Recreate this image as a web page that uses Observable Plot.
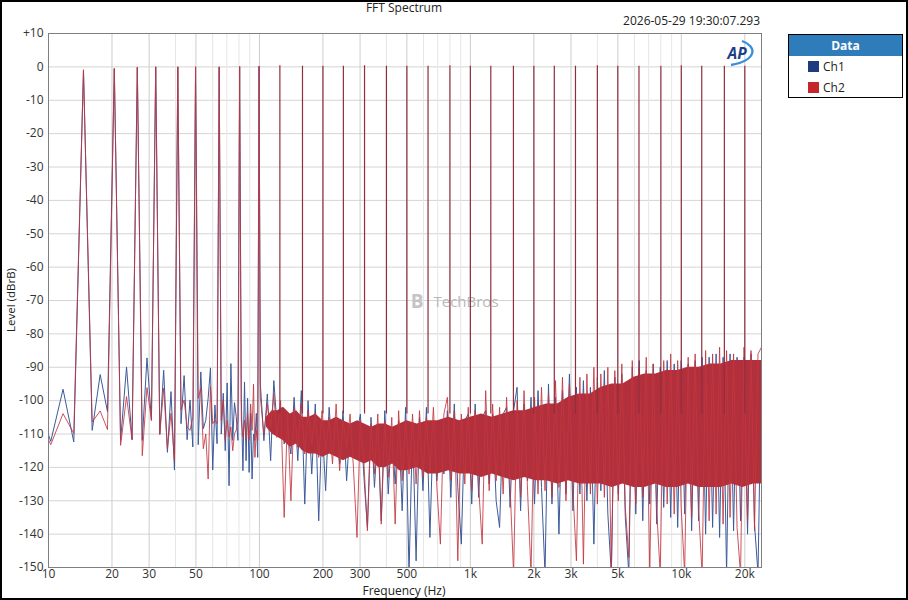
<!DOCTYPE html>
<html>
<head>
<meta charset="utf-8">
<script src="https://cdn.jsdelivr.net/npm/d3@7"></script>
<script src="https://cdn.jsdelivr.net/npm/@observablehq/plot@0.6"></script>
<style>
  html, body { margin: 0; padding: 0; background: #fff; }
  #wrap { position: relative; width: 908px; height: 600px; overflow: hidden; background: #fff;
          font-family: "Open Sans", "Noto Sans", sans-serif; color: #222; }
  #chart { position: absolute; left: 0; top: 0; }
  .ov { position: absolute; white-space: nowrap; line-height: 14px; }
  #title { left: 0; width: 808px; top: 3px; line-height: 10px; text-align: center; font-size: 12px; }
  #stamp { right: 148px; top: 14px; font-size: 12px; }
  #xlabel { left: 0; width: 808px; top: 586px; line-height: 9px; text-align: center; font-size: 12px; }
  #ylabel { left: 11px; top: 300px; font-size: 11.5px; transform: translate(-50%, -50%) rotate(-90deg); }
  #legend { left: 788px; top: 34px; width: 115px; height: 64px; border: 1px solid #000; box-sizing: border-box; font-size: 12px; background: #fff; }
  #lhead { position: absolute; left: 0; top: 0; width: 113px; height: 21px; line-height: 21px; background: #2f7cba; color: #fff; font-weight: 700; text-align: center; }
  .sw { position: absolute; left: 19px; width: 11px; height: 11px; }
  .lt { position: absolute; left: 34px; line-height: 14px; }
  #border { position: absolute; left: 0; top: 0; width: 908px; height: 600px; border: 2px solid #000; box-sizing: border-box; pointer-events: none; }
</style>
</head>
<body>
<div id="wrap">
  <div id="chart"></div>
  <div id="title" class="ov">FFT Spectrum</div>
  <div id="stamp" class="ov">2026-05-29 19:30:07.293</div>
  <div id="xlabel" class="ov">Frequency (Hz)</div>
  <div id="ylabel" class="ov">Level (dBrB)</div>
  <svg class="ov" style="left:0;top:0" width="908" height="600">
    <path d="M742,41 C757,46 758,60 731,65" fill="none" stroke="#3b8fd8" stroke-width="2.3"/>
    <text x="737" y="58.5" text-anchor="middle" font-family="Open Sans" font-weight="700" font-style="italic" font-size="15.5" fill="#1c3f86">AP</text>
  </svg>
  <div id="legend" class="ov">
    <div id="lhead">Data</div>
    <div class="sw" style="top:26px;background:#1f3b7f"></div>
    <div class="lt" style="top:25px">Ch1</div>
    <div class="sw" style="top:47px;background:#c4272c"></div>
    <div class="lt" style="top:46px">Ch2</div>
  </div>
  <div id="border"></div>
</div>
<script>
// ---- axis ticks ----
const xTicks = [10, 20, 30, 50, 100, 200, 300, 500, 1000, 2000, 3000, 5000, 10000, 20000];
const xTickLabels = ["10", "20", "30", "50", "100", "200", "300", "500", "1k", "2k", "3k", "5k", "10k", "20k"];
const yTicks = [10, 0, -10, -20, -30, -40, -50, -60, -70, -80, -90, -100, -110, -120, -130, -140, -150];
const gridMajor = [20, 30, 50, 100, 200, 300, 500, 1000, 2000, 3000, 5000, 10000, 20000];
const gridMinor = [40, 60, 70, 80, 90, 400, 600, 700, 800, 900, 4000, 6000, 7000, 8000, 9000];
const yGrid = [0, -10, -20, -30, -40, -50, -60, -70, -80, -90, -100, -110, -120, -130, -140];

// ---- low-frequency FFT bins (Hz) with levels (dBrB), incl. first tones ----
const lowBinFreqs = [8.79, 10.25, 11.72, 13.18, 14.65, 16.11, 17.58, 19.04, 20.51, 21.97,
  23.44, 24.90, 26.37, 27.83, 29.30, 30.76, 32.23, 33.69, 35.16, 36.62,
  38.09, 39.55, 41.02, 42.48, 43.95, 45.41, 46.88, 48.34, 49.80, 51.27,
  52.73, 54.20, 55.66, 57.13, 58.59, 60.06, 61.52, 62.99, 64.45, 65.92,
  67.38, 68.85, 70.31, 71.78, 73.24, 74.71, 76.17, 77.64, 79.10, 80.57,
  82.03, 83.50, 84.96, 86.43, 87.89, 89.36, 90.82, 92.29, 93.75, 95.21,
  96.68, 98.14, 99.61];
const lowCh1 = [-100, -112.2, -96.6, -112.4, -0.9, -108.9, -92.2, -103.3, -0.5, -111.9,
  -89.9, -111.7, -0.1, -111.9, -87.2, -105.9, 0, -110.1, -90.9, -115.5,
  -97.3, -120.8, 0, -106.9, -92.5, -111.7, -99.8, -113.9, 0, -113.2,
  -91.4, -108.4, -105.9, -99.3, -90.2, -120.8, -101.3, -112.9, 0, -110,
  -97.8, -115, -94.7, -125.5, -88.9, -111.9, -100.6, -104.8, -111.9, 0.1,
  -99.3, -121, -94.4, -118, -99.3, -121.5, -103.8, -123.5, -110, -111.9,
  -103.8, -117, 0.2];
const lowCh2 = [-104, -113.2, -103.9, -109.8, -0.9, -106.4, -103.1, -108.7, -0.5, -113.4,
  -98.8, -111.7, -0.1, -116.5, -96.1, -105.9, 0, -110.1, -96.3, -114.4,
  -103.8, -118, 0, -102.8, -99.8, -107.9, -108.9, -104.8, 0, -99.3,
  -96.3, -114.4, -110, -123.5, -95.8, -106.9, -105.9, -106.9, 0, -105.9,
  -99.8, -111.9, -105.9, -110.9, -107.9, -115, -109.9, -108.9, -105.9, 0.1,
  -105.9, -110.9, -105.9, -111.9, -103.8, -111.9, -101, -108.9, -95.1, -117,
  -108.9, -111.9, 0.2];

// ---- higher tones (Hz) and their levels (dBrB) ----
const toneFreqs = [125, 160, 200, 250, 315, 400, 500, 630, 800, 1000, 1250, 1600,
  2000, 2500, 3150, 4000, 5000, 6300, 8000, 10000, 12500, 16000, 20000];
const toneLevels = [0.3, 0.2, 0.2, 0.2, 0.3, 0.2, 0.2, 0.2, 0.3, 0.2, 0.2, 0.2,
  0.2, 0.2, 0.2, 0.3, 0.2, 0.2, 0.2, 0.3, 0.2, 0.2, 0.2];

// ---- noise floor samples above 100 Hz (Hz, dBrB) ----
const noiseFreqs = [101, 105, 109, 113, 117, 121, 126, 131, 136, 141,
  146, 152, 158, 164, 170, 177, 184, 191, 198, 206,
  214, 222, 231, 240, 249, 259, 269, 279, 290, 301,
  313, 325, 338, 351, 364, 378, 393, 408, 424, 440,
  457, 475, 493, 512, 532, 553, 574, 596, 619, 643,
  668, 694, 721, 749, 778, 808, 839, 872, 906, 941,
  977, 1015, 1054, 1095, 1138, 1182, 1228, 1275, 1325, 1376,
  1430, 1485, 1543, 1603, 1665, 1730, 1797, 1867, 1939, 2015,
  2093, 2174, 2259, 2346, 2437, 2532, 2630, 2733, 2839, 2949,
  3064, 3183, 3306, 3435, 3568, 3707, 3851, 4000, 4156, 4317,
  4485, 4659, 4840, 5028, 5224, 5427, 5638, 5857, 6084, 6321,
  6566, 6821, 7086, 7362, 7648, 7945, 8254, 8574, 8907, 9253,
  9613, 9986, 10374, 10778, 11196, 11632, 12084, 12553, 13041, 13548,
  14075, 14622, 15190, 15780, 16393, 17030, 17692, 18380, 19094, 19836,
  20607, 21408, 22240, 23104, 24000];
const noiseCh2 = [-99, -110, -101, -108, -98, -111, -100, -135, -104, -130,
  -102, -114, -101, -116, -103, -113, -104, -117, -103, -115,
  -105, -119, -101, -121, -106, -114, -104, -120, -141, -106,
  -119, -139, -107, -122, -104, -137, -106, -123, -105, -137,
  -103, -124, -106, -122, -104, -125, -103, -123, -105, -121,
  -102, -126, -143, -104, -99, -124, -103, -148, -104, -125,
  -102, -127, -103, -126, -143, -97, -127, -101, -124, -102,
  -128, -99, -126, -152, -100, -129, -97, -127, -152, -99,
  -128, -96, -127, -98, -129, -94, -126, -93, -130, -95,
  -127, -148, -93, -149, -92, -128, -90, -131, -92, -129,
  -90, -152, -91, -130, -89, -132, -147, -88, -131, -90,
  -129, -87, -152, -89, -133, -152, -88, -131, -86, -134,
  -88, -132, -152, -87, -135, -86, -133, -152, -85, -136,
  -86, -134, -84, -137, -85, -135, -86, -138, -152, -84,
  -136, -85, -139, -86, -84];
const noiseCh1 = [-95, -112, -98, -118, -94, -107, -102, -113, -109, -116,
  -99, -118, -97, -131, -100, -122, -101, -136, -106, -127,
  -102, -116, -106, -119, -103, -124, -108, -117, -110, -104,
  -123, -138, -105, -126, -109, -136, -103, -128, -108, -125,
  -106, -133, -102, -152, -107, -148, -105, -127, -102, -141,
  -106, -124, -108, -122, -103, -129, -101, -126, -143, -106,
  -104, -131, -101, -129, -105, -103, -125, -104, -130, -138,
  -104, -102, -132, -103, -96, -133, -101, -124, -99, -131,
  -97, -126, -152, -95, -131, -99, -140, -97, -128, -92,
  -133, -96, -128, -94, -130, -96, -143, -93, -127, -91,
  -134, -152, -93, -128, -92, -135, -152, -90, -134, -88,
  -136, -91, -131, -89, -137, -90, -132, -88, -135, -89,
  -138, -88, -134, -89, -139, -88, -136, -87, -140, -87,
  -138, -86, -141, -87, -152, -86, -139, -87, -136, -87,
  -140, -86, -137, -152, -88];

// ---- dense noise core (Ch2 on top), read as upper / lower edge (Hz, dBrB) ----
const coreFreqs = [108, 115, 122, 130, 140, 150, 160, 172, 185, 200,
  215, 232, 250, 270, 292, 315, 340, 367, 396, 428,
  462, 500, 560, 630, 700, 790, 890, 1000, 1130, 1270,
  1430, 1610, 1810, 2040, 2300, 2590, 2920, 3290, 3700, 4170,
  4700, 5290, 5960, 6710, 7560, 8510, 9590, 10800, 12160, 13700,
  15430, 17380, 19580, 22050, 24000];
const coreTop = [-105, -103, -103, -102, -104, -103, -105, -105, -104, -106,
  -106, -105, -106, -107, -106, -107, -108, -107, -107, -108,
  -107, -106, -107, -106, -106, -105, -106, -105, -104, -105,
  -104, -103, -103, -102, -101, -101, -99, -98, -98, -96,
  -95, -95, -93, -92, -92, -91, -91, -90, -90, -89,
  -89, -88, -88, -88, -88];
const coreBot = [-108, -110, -111, -112, -114, -113, -115, -116, -116, -117,
  -116, -117, -118, -117, -118, -119, -118, -120, -120, -119,
  -121, -121, -120, -122, -122, -121, -122, -122, -123, -122,
  -123, -124, -123, -124, -124, -125, -124, -125, -125, -125,
  -126, -125, -126, -126, -125, -126, -126, -125, -126, -126,
  -126, -125, -126, -125, -125];

// ---- build tables ----
const ch1Line = lowBinFreqs.map((f, i) => ({f, v: lowCh1[i]}))
  .concat(noiseFreqs.map((f, i) => ({f, v: noiseCh1[i]})));
const ch2Line = lowBinFreqs.map((f, i) => ({f, v: lowCh2[i]}))
  .concat(noiseFreqs.map((f, i) => ({f, v: noiseCh2[i]})));
const core = coreFreqs.map((f, i) => ({f, top: coreTop[i], bot: coreBot[i]}));
const tones = toneFreqs.map((f, i) => ({f, v: toneLevels[i]}));

const BLUE = "#3d5a9a", RED = "#c2363f";

const chart = Plot.plot({
  width: 908,
  height: 600,
  marginLeft: 48,
  marginRight: 147,
  marginTop: 33,
  marginBottom: 33,
  style: {fontFamily: "Open Sans, Noto Sans, sans-serif", fontSize: "12px", color: "#333", background: "transparent"},
  x: {type: "log", domain: [10, 24000], axis: null},
  y: {domain: [-150, 10]},
  marks: [
    Plot.ruleY(yGrid, {stroke: "#d4d4d4"}),
    Plot.ruleX(gridMinor, {stroke: "#e6e6e6"}),
    Plot.ruleX(gridMajor, {stroke: "#cdcdcd"}),
    Plot.text(["B"], {text: d => d, frameAnchor: "middle", dx: 12, dy: 1, fontSize: 19, fontWeight: "bold", fill: "#c4c4c4"}),
    Plot.text(["TechBros"], {text: d => d, frameAnchor: "middle", dx: 61, dy: 2, fontSize: 15, fill: "#b8b8b8"}),
    Plot.line(ch1Line, {x: "f", y: "v", stroke: BLUE, strokeWidth: 1, clip: true}),
    Plot.areaY(core, {x: "f", y1: "bot", y2: "top", fill: "#b2303b"}),
    Plot.line(ch2Line, {x: "f", y: "v", stroke: RED, strokeWidth: 1, strokeOpacity: 0.85, clip: true}),
    Plot.ruleX(tones, {x: "f", y1: -104, y2: "v", stroke: "#8e2e40", strokeWidth: 1.2}),
    Plot.frame({stroke: "#7f7f7f"}),
    Plot.text(xTicks, {x: d => d, text: (d, i) => xTickLabels[i], frameAnchor: "bottom", lineAnchor: "top", dy: 2, fill: "#333"}),
    Plot.axisY(yTicks, {tickSize: 0, tickPadding: 5, tickFormat: d => d > 0 ? "+" + d : String(d), label: null})
  ]
});
document.getElementById("chart").appendChild(chart);
</script>
</body>
</html>
